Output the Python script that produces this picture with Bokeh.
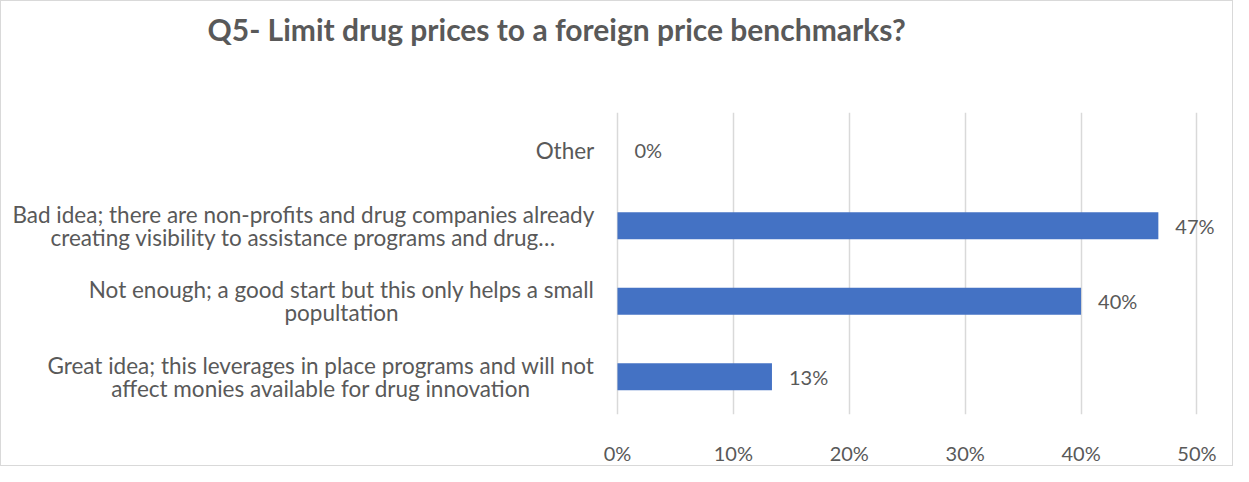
from bokeh.plotting import figure
from bokeh.models import ColumnDataSource, FixedTicker, NumeralTickFormatter, FactorRange, Range1d, Title
from bokeh.embed import file_html
from bokeh.resources import INLINE
from bokeh.core.properties import value

title_text = "Q5- Limit drug prices to a foreign price benchmarks?"
categories = [
    "Great idea; this leverages in place programs and will not\naffect monies available for drug innovation",
    "Not enough; a good start but this only helps a small\npopultation",
    "Bad idea; there are non-profits and drug companies already\ncreating visibility to assistance programs and drug\u2026",
    "Other",
]
shares = [0.1333, 0.40, 0.4667, 0.0]
tick_values = [0.0, 0.1, 0.2, 0.3, 0.4, 0.5]

FONT = "Lato"
TXT = "#595959"
BAR = "#4472C4"

labels = [f"{round(v * 100)}%" for v in shares]
src = ColumnDataSource(dict(cat=categories, share=shares, lab=labels))

W, H = 1233, 466
TOP, BOTTOM = 111, 34

p = figure(width=W, height=H,
           y_range=FactorRange(*categories),
           x_range=Range1d(-0.5315, 0.5255),
           output_backend="svg", toolbar_location=None,
           min_border_left=0, min_border_right=8, min_border_top=TOP, min_border_bottom=BOTTOM)

p.hbar(y="cat", left=0, right="share", height=0.36, source=src,
       fill_color=BAR, line_color=None)

p.text(x=-0.02, y="cat", text="cat", source=src, anchor="center_right",
       text_align="center", text_font=value(FONT), text_font_size="22.5px",
       text_color=TXT, text_line_height=0.86)

p.text(x="share", y="cat", text="lab", source=src, x_offset=17,
       text_align="left", text_baseline="middle", text_font=value(FONT),
       text_font_size="20px", text_color=TXT)

p.yaxis.visible = False
p.ygrid.visible = False
p.xaxis.ticker = FixedTicker(ticks=tick_values)
p.xaxis.formatter = NumeralTickFormatter(format="0%")
p.xaxis.axis_line_color = None
p.xaxis.major_tick_line_color = None
p.xaxis.minor_tick_line_color = None
p.xaxis.major_label_text_font = FONT
p.xaxis.major_label_text_font_size = "20px"
p.xaxis.major_label_text_color = TXT
p.xaxis.major_label_standoff = 20
p.xgrid.ticker = FixedTicker(ticks=tick_values)
p.xgrid.grid_line_color = "#d9d9d9"
p.xgrid.grid_line_width = 1.5
p.outline_line_color = None

# the visible title (figure's own title)
p.title.text = title_text
p.title.align = "left"
p.title.offset = 206
p.title.standoff = 10
p.title.text_font = FONT
p.title.text_font_size = "30px"
p.title.text_font_style = "bold"
p.title.text_color = TXT

# an empty spacer between the title and the plot frame
p.add_layout(Title(text=" ", text_font_size="1px", standoff=58), "above")

p.styles = {"border": "1px solid #d9d9d9", "box-sizing": "border-box"}

open("out.html", "w").write(file_html(p, INLINE))
